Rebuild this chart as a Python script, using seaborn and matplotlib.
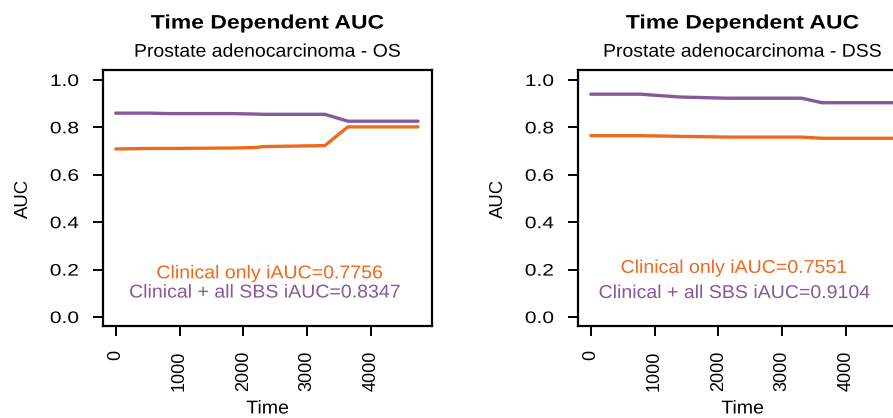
import numpy as np
import pandas as pd
import matplotlib
matplotlib.use("Agg")
import matplotlib.pyplot as plt
import seaborn as sns
from matplotlib.patheffects import AbstractPathEffect
from matplotlib.transforms import Affine2D

# ---- data -------------------------------------------------------------
os_time = [0, 530, 850, 1840, 2210, 2310, 3280, 3640, 4740]
os_clinical = [0.709, 0.711, 0.711, 0.713, 0.715, 0.719, 0.723, 0.802, 0.802]
os_sbs = [0.860, 0.860, 0.858, 0.858, 0.856, 0.855, 0.855, 0.826, 0.826]

dss_time = [0, 780, 1400, 2140, 3310, 3625, 4740]
dss_clinical = [0.765, 0.765, 0.762, 0.759, 0.759, 0.754, 0.754]
dss_sbs = [0.940, 0.940, 0.928, 0.923, 0.923, 0.904, 0.904]

models = ["Clinical only", "Clinical + all SBS"]
iauc_os = [0.7756, 0.8347]
iauc_dss = [0.7551, 0.9104]
subtitles = ["Prostate adenocarcinoma - OS", "Prostate adenocarcinoma - DSS"]
main_title = "Time Dependent AUC"

x_ticks = [0, 1000, 2000, 3000, 4000]
y_ticks = [0.0, 0.2, 0.4, 0.6, 0.8, 1.0]
y_tick_labels = ["0.0", "0.2", "0.4", "0.6", "0.8", "1.0"]

colors = {"Clinical only": "#EF6A1C", "Clinical + all SBS": "#87589C"}


class Widen(AbstractPathEffect):
    """Stretch glyph outlines horizontally around an anchor."""

    def __init__(self, factor, anchor="center"):
        super().__init__()
        self.factor = factor
        self.anchor = anchor

    def draw_path(self, renderer, gc, tpath, affine, rgbFace=None):
        pts = affine.transform(tpath.vertices)
        if len(pts) == 0:
            return
        lo, hi = pts[:, 0].min(), pts[:, 0].max()
        cx = {"left": lo, "right": hi}.get(self.anchor, 0.5 * (lo + hi))
        stretch = Affine2D().translate(-cx, 0).scale(self.factor, 1).translate(cx, 0)
        renderer.draw_path(gc, tpath, affine + stretch, rgbFace)


def panel_frame(time, clinical, sbs):
    return pd.DataFrame({
        "Time": list(time) * 2,
        "AUC": list(clinical) + list(sbs),
        "Model": [models[0]] * len(time) + [models[1]] * len(time),
    })


sns.set_style("white")
plt.rcParams["font.family"] = ["Liberation Sans", "DejaVu Sans"]
plt.rcParams["text.color"] = "black"
plt.rcParams["xtick.color"] = "black"
plt.rcParams["ytick.color"] = "black"
plt.rcParams["axes.edgecolor"] = "black"

W, H = 893, 418
fig = plt.figure(figsize=(W / 100, H / 100), dpi=100)

panels = [
    dict(left=103, df=panel_frame(os_time, os_clinical, os_sbs), sub=subtitles[0],
         iauc=iauc_os, txt=[(2414, 0.163), (2335, 0.082)]),
    dict(left=578, df=panel_frame(dss_time, dss_clinical, dss_sbs), sub=subtitles[1],
         iauc=iauc_dss, txt=[(2242, 0.186), (2250, 0.080)]),
]

ax_w, ax_top, ax_bot = 329, 70, 326

for p in panels:
    ax = fig.add_axes([p["left"] / W, (H - ax_bot) / H, ax_w / W, (ax_bot - ax_top) / H])
    sns.lineplot(data=p["df"], x="Time", y="AUC", hue="Model", palette=colors,
                 linewidth=2.4, legend=False, ax=ax, errorbar=None)
    ax.set_xlim(-200, 4960)
    ax.set_ylim(-0.038, 1.042)

    for s in ax.spines.values():
        s.set_visible(True)
        s.set_color("black")
        s.set_linewidth(1.6)

    ax.set_xticks(x_ticks)
    ax.set_xticklabels([str(t) for t in x_ticks], rotation=90, fontsize=13)
    ax.set_yticks(y_ticks)
    ax.set_yticklabels(y_tick_labels, fontsize=12)
    ax.tick_params(axis="both", which="major", direction="out", length=7.5, width=1.4,
                   color="black", labelcolor="black", bottom=True, left=True,
                   top=False, right=False)
    ax.tick_params(axis="y", pad=10)
    ax.tick_params(axis="x", pad=10)
    for lab in ax.get_yticklabels():
        lab.set_path_effects([Widen(1.26, "right")])

    ax.set_xlabel("")
    ax.set_ylabel("")

    cx = (p["left"] + ax_w / 2) / W
    fig.text(cx, 1 - 28.5 / H, main_title, ha="center", va="baseline",
             fontsize=14, fontweight="bold", path_effects=[Widen(1.18)])
    fig.text(cx, 1 - 56.7 / H, p["sub"], ha="center", va="baseline",
             fontsize=13.2, path_effects=[Widen(1.06)])
    fig.text(cx, 0.5 / H, "Time", ha="center", va="bottom",
             fontsize=13.4, path_effects=[Widen(1.05)])
    fig.text((p["left"] - 80) / W, (H - 198) / H, "AUC", ha="center", va="center",
             rotation=90, fontsize=13.4)

    for (tx, ty), name, val in zip(p["txt"], models, p["iauc"]):
        ax.text(tx, ty, f"{name} iAUC={val:.4f}", ha="center", va="baseline",
                color=colors[name], fontsize=13.4, path_effects=[Widen(1.05)])

fig.savefig("out.png", dpi=100)
